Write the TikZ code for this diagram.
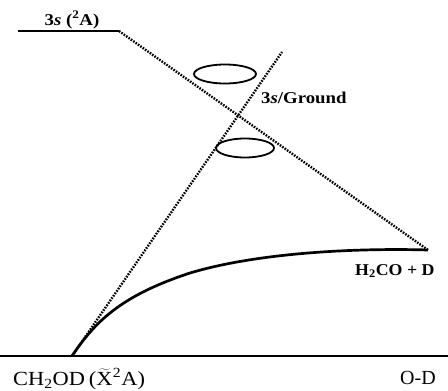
\documentclass[tikz,border=0pt]{standalone}
\usepackage{graphicx}
\usepackage{fontspec}
\setmainfont{Liberation Serif}
\begin{document}
\begin{tikzpicture}[x=1pt,y=-1pt,
  lvl/.style={line width=2pt},
  dotl/.style={line width=2.4pt, dash pattern=on 1.6pt off 1.3pt},
  lab/.style={font=\fontsize{16.5}{18}\selectfont\bfseries, inner sep=0pt},
  blab/.style={font=\fontsize{20}{22}\selectfont, inner sep=0pt},
  orb/.style={line width=1.8pt}]
\useasboundingbox (0,0) rectangle (448,391);
\coordinate (t0) at (18,31);
\coordinate (t1) at (119,31);
\coordinate (pr) at (428,250);
\coordinate (b0) at (0,356);
\coordinate (b1) at (448,356);
\coordinate (gs) at (72,356);
\coordinate (de) at (282,52);
\draw[lvl] (t0) -- (t1);
\draw[lvl] (b0) -- (b1);
\draw[dotl] (t1) -- (pr);
\draw[dotl] (gs) -- (de);
\draw[line width=2.7pt] (gs) .. controls (95,322) and (120,296) .. (190,273) .. controls (260,252) and (360,248) .. (pr);
\draw[orb] (225,74) ellipse [x radius=31, y radius=9.5];
\draw[orb] (245,148) ellipse [x radius=29, y radius=9.5];
\node[lab,anchor=base] (l3s) at (72,25) {\scalebox{1.14}[1]{3\textit{s} (\textsuperscript{2}A)}};
\node[lab,anchor=base west] (lcx) at (261,103) {\scalebox{1.14}[1]{3\textit{s}/Ground}};
\node[lab,anchor=base west] (lpr) at (355,275) {\scalebox{1.08}[1]{H\textsubscript{2}CO + D}};
\node[blab,anchor=base west] (lgs) at (13,385) {\scalebox{1.12}[1]{CH\textsubscript{2}OD\,(\smash{$\widetilde{\mbox{X}}$}\kern0.5pt\textsuperscript{2}A)}};
\node[blab,anchor=base west] (lod) at (400,384) {O-D};
\end{tikzpicture}
\end{document}
